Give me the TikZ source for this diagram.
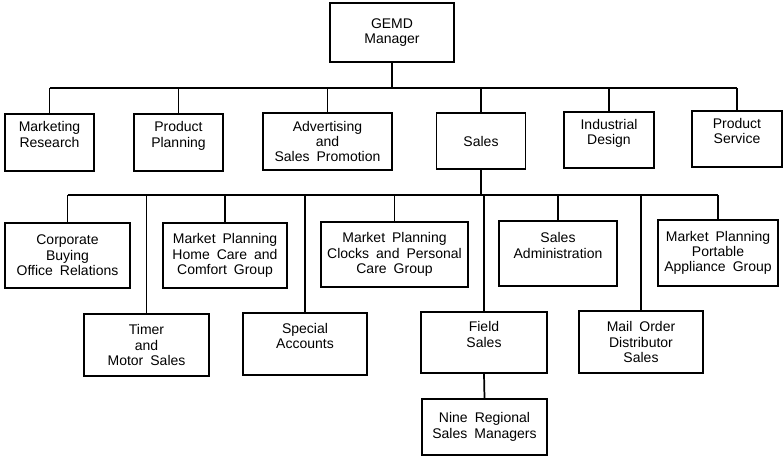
\documentclass[tikz,border=0pt]{standalone}
\usepackage{fontspec}
\setmainfont[WordSpace=1.8]{Liberation Sans}
\usepackage{tikz}
\tikzstyle{unit} = [draw, line width=0.9pt, align=center, inner sep=2pt, font=\fontsize{10.5}{11.5}\selectfont]
\tikzstyle{link} = [line width=1.3pt]
\tikzstyle{raised} = [text depth=12pt]

\begin{document}
\begin{tikzpicture}[x=0.75pt, y=-0.75pt]
            \useasboundingbox (0,0) rectangle (783,456);
            \node[unit, minimum width=93pt, minimum height=44.25pt] (gemd) at (392,32.5) {GEMD\\Manager};
            \node[unit, raised, minimum width=66.75pt, minimum height=42.75pt] (mktres) at (49.5,142.5) {Marketing\\Research};
            \node[unit, raised, minimum width=66.75pt, minimum height=42.75pt] (prodplan) at (178.5,142.5) {Product\\Planning};
            \node[unit, minimum width=96.75pt, minimum height=42.75pt] (advert) at (327.5,141.5) {Advertising\\and\\Sales Promotion};
            \node[unit, minimum width=66.75pt, minimum height=42pt] (sales) at (481,141) {Sales};
            \node[unit, raised, minimum width=67.5pt, minimum height=42pt] (inddes) at (609,140) {Industrial\\Design};
            \node[unit, raised, minimum width=67.5pt, minimum height=42pt] (prodserv) at (737,139) {Product\\Service};
            \coordinate (bus1) at (0,88);
            \draw[link] (gemd.south) -- (gemd.south |- bus1);
            \draw[link] (mktres.north |- bus1) -- (prodserv.north |- bus1);
            \foreach \n in {mktres,prodplan,advert,sales,inddes,prodserv}
                \draw[link] (\n.north) -- (\n.north |- bus1);
            \node[unit, minimum width=93.75pt, minimum height=48.75pt] (corpbuy) at (67.5,255.5) {Corporate\\Buying\\Office Relations};
            \node[unit, minimum width=93pt, minimum height=48.75pt] (mphome) at (225,255.5) {Market Planning\\Home Care and\\Comfort Group};
            \node[unit, minimum width=110.25pt, minimum height=48.75pt] (mpclock) at (394.5,254.5) {Market Planning\\Clocks and Personal\\Care Group};
            \node[unit, raised, minimum width=88.5pt, minimum height=48.75pt] (salesadm) at (558,253.5) {Sales\\Administration};
            \node[unit, minimum width=90pt, minimum height=49.5pt] (mpport) at (718,253) {Market Planning\\Portable\\Appliance Group};
            \node[unit, minimum width=93.75pt, minimum height=46.5pt] (timer) at (146.5,345) {Timer\\and\\Motor Sales};
            \node[unit, raised, minimum width=93pt, minimum height=46.5pt] (special) at (305,344) {Special\\Accounts};
            \node[unit, raised, minimum width=94.5pt, minimum height=45.75pt] (field) at (484,342.5) {Field\\Sales};
            \node[unit, minimum width=93pt, minimum height=46.5pt] (mailord) at (641,342) {Mail Order\\Distributor\\Sales};
            \node[unit, minimum width=93.75pt, minimum height=42pt] (regional) at (484.5,427) {Nine Regional\\Sales Managers};
            \coordinate (bus2) at (0,195);
            \draw[link] (sales.south) -- (sales.south |- bus2);
            \draw[link] (corpbuy.north |- bus2) -- (mpport.north |- bus2);
            \foreach \n in {corpbuy,mphome,mpclock,salesadm,mpport,timer,special,field,mailord}
                \draw[link] (\n.north) -- (\n.north |- bus2);
            \draw[link] (field.south) -- (regional.north);
        \end{tikzpicture}
\end{document}
